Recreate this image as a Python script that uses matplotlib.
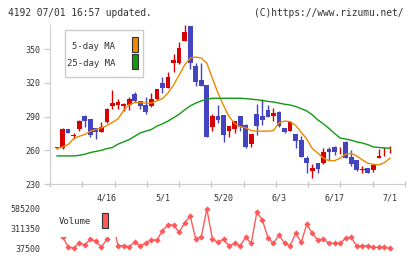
import matplotlib
matplotlib.use('Agg')
import matplotlib.pyplot as plt
from matplotlib.patches import Rectangle
import matplotlib.transforms as mtransforms
import numpy as np

# daily candles (4/3 .. 7/1)
opens = [262, 262, 279, 272.5, 279, 290.5, 288, 280, 276.5, 285,
         299.5, 300.5, 299, 300, 310, 304, 300, 299, 305.5, 320,
         315, 338, 337.5, 357.5, 370.5, 335, 322.5, 318, 281, 290.5,
         291.5, 277.5, 279, 290.5, 282.5, 266, 292, 290.5, 296, 290.5,
         294, 280, 277.5, 274.5, 269, 253, 241.8, 248.4, 248.4, 261,
         263.2, 260, 267.7, 254.3, 251.4, 242.3, 244, 242.5, 253.5, 262.5,
         262.5]
highs = [262.5, 280, 279, 275, 287, 291, 288, 280, 285, 297.5,
         314, 306, 302, 307, 312, 304, 307, 310.7, 314.5, 325.5,
         330, 346, 356, 371.5, 371, 338, 337.5, 318, 292, 300,
         291.5, 282, 286, 290.5, 283, 274.5, 301, 305.7, 300, 297.5,
         295, 280, 286, 274.5, 272.7, 254.5, 247.5, 248.4, 262, 263,
         263.5, 263, 268.5, 260.3, 251.4, 246, 244, 246.6, 261, 263,
         264]
lows = [261.5, 261, 275, 270, 277, 281, 271.5, 270, 276, 284,
        297, 297, 295, 296, 303, 296.5, 292.3, 298.8, 305, 311,
        315, 329.5, 337, 357, 332.5, 317.5, 317, 272, 277.5, 284.5,
        267.5, 271.5, 275, 277.5, 262, 263, 274, 282.5, 289.5, 286,
        281, 275.5, 277, 262, 254, 240, 235, 239.5, 248, 251.4,
        255.5, 256.5, 253, 246, 241.5, 239.5, 239.5, 241, 253, 254.5,
        258]
closes = [262, 279, 275, 273, 286, 286.5, 274, 276.5, 281, 297,
          302, 303, 301.5, 306, 303.5, 299.5, 294.5, 305.7, 314.5, 315,
          325, 340.5, 351, 365, 338, 321, 317.5, 272, 290.5, 287,
          273.5, 281.5, 285.8, 281, 263, 274.5, 282, 287, 290, 293.5,
          282, 276, 285, 268.6, 254.3, 248.4, 244.5, 243.6, 258.5, 258.8,
          258.8, 260.5, 253, 247.8, 242.5, 242.7, 240, 246.6, 255, 263,
          263]
ma5 = [261.5, 263, 265, 270.5, 272.5, 274, 277, 278.5, 280, 282,
       285, 288, 295.5, 300.5, 302.5, 302.5, 302, 302, 304, 306,
       311, 318, 327, 336, 342, 343, 342, 337.5, 324, 311,
       300, 290, 284, 281, 280, 277.5, 277, 277, 277, 277.5,
       284.5, 286, 285.5, 282, 276, 270, 261.5, 257.5, 253, 250.7,
       250.7, 253, 256.5, 257.3, 255, 251.5, 248.5, 247.5, 247, 249,
       253]
ma25 = [255, 255, 255, 255, 255.5, 256.5, 258, 259, 260, 261.5,
        262.5, 265.5, 267.5, 269.5, 272.5, 275.5, 277, 278.5, 281.5, 283.5,
        286, 289, 292, 296, 299.5, 302, 304, 305.5, 306.3, 306.3,
        306.3, 306.3, 306.3, 306.3, 306, 305.5, 305, 304.3, 303.5, 303,
        302, 301, 300.3, 299, 297, 295, 291.5, 287, 283.5, 279.5,
        275, 271, 270, 269, 267.5, 266.5, 265, 263, 262.5, 262,
        262]
volume = [250000, 200000, 59800, 40000, 115500, 83500, 163000, 139200, 51400, 167100,
          404000, 73700, 73700, 59800, 121100, 73700, 107200, 153200, 153200, 282800,
          362200, 362200, 260500, 394300, 487700, 167100, 199200, 585200, 167100, 121100,
          167100, 69600, 107200, 73700, 190800, 107200, 539200, 431900, 185200, 107200,
          222900, 107200, 73700, 246600, 121100, 372000, 246600, 153200, 167100, 107200,
          107200, 107200, 176900, 190800, 69600, 69600, 73700, 51400, 51400, 51400,
          37500]
date_labels = ['4/16', '5/1', '5/20', '6/3', '6/17', '7/1']
date_index = [9, 19, 30, 40, 50, 60]
price_ticks = [230, 260, 290, 320, 350]
vol_ticks = [37500, 311350, 585200]

RED = '#d80000'
BLUE = '#4444c0'
GRID = '#cccccc'
TXT = '#333333'
MONO = 'DejaVu Sans Mono'

plt.rcParams['font.family'] = MONO

W, H = 420, 259
fig = plt.figure(figsize=(W/100, H/100), dpi=100)

def px_axes(x0, y0, x1, y1):
  # pixel box (top-left origin) -> figure axes
  return fig.add_axes([x0/W, 1-y1/H, (x1-x0)/W, (y1-y0)/H])

ax = px_axes(50, 25, 405, 184)
vax = px_axes(50, 209, 405, 248.3)

n = len(closes)
idx = np.arange(n)
xlim = (-1.26, 62.7)

# candles
o = np.array(opens); c = np.array(closes)
up = c >= o
colors = [RED if u else BLUE for u in up]
ax.vlines(idx, lows, highs, colors=colors, linewidth=1, zorder=2)
bottom = np.minimum(o, c)
height = np.maximum(np.abs(c - o), 0.7)
ax.bar(idx, height, bottom=bottom, width=0.85, color=colors, linewidth=0, zorder=3)

ax.plot(idx, ma5, color='#ee8800', lw=1, zorder=4)
ax.plot(idx, ma25, color='#119911', lw=1, zorder=4)

ax.set_xlim(*xlim)
ax.set_ylim(230, 371.5)
ax.set_yticks(price_ticks)
ax.set_xticks(np.linspace(xlim[0], xlim[1], 12))
ax.set_xticklabels([])
for s in ['top', 'right']:
  ax.spines[s].set_visible(False)
for s in ['left', 'bottom']:
  ax.spines[s].set_color(GRID)
ax.tick_params(axis='y', length=4, width=1, color=GRID, labelsize=6, labelcolor=TXT, pad=3)
ax.tick_params(axis='x', direction='inout', length=5, width=1, color=GRID)

trans = mtransforms.blended_transform_factory(ax.transData, ax.transAxes)
for lab, i in zip(date_labels, date_index):
  ax.text(i, -0.088, lab, transform=trans, ha='center', va='center',
          fontsize=6, color=TXT, clip_on=False)

# legend (price)
ax.add_patch(Rectangle((0.042, 0.673), 0.22, 0.296, transform=ax.transAxes,
                       facecolor='white', edgecolor=GRID, lw=1, zorder=10))
ax.text(0.183, 0.8635, '5-day MA', transform=ax.transAxes, ha='right', va='center',
        fontsize=6.5, color=TXT, zorder=11)
ax.text(0.183, 0.759, '25-day MA', transform=ax.transAxes, ha='right', va='center',
        fontsize=6.5, color=TXT, zorder=11)
ax.add_patch(Rectangle((0.231, 0.83), 0.017, 0.094, transform=ax.transAxes,
                       facecolor='#ee8800', edgecolor='#333333', lw=0.8, zorder=11))
ax.add_patch(Rectangle((0.231, 0.723), 0.017, 0.094, transform=ax.transAxes,
                       facecolor='#119911', edgecolor='#333333', lw=0.8, zorder=11))

# volume
vax.plot(idx, volume, color='#ff5a5a', lw=1, marker='D', markersize=3.2,
         markeredgewidth=0, clip_on=False, zorder=2)
vax.set_xlim(*xlim)
vax.set_ylim(37500, 585200)
vax.set_yticks(vol_ticks)
vax.set_yticklabels([str(v) for v in vol_ticks])
vax.set_xticks([])
for s in vax.spines.values():
  s.set_visible(False)
vax.tick_params(axis='y', length=0, labelsize=6, labelcolor=TXT, pad=7)

vax.add_patch(Rectangle((-0.005, 0.30), 0.196, 0.80, transform=vax.transAxes,
                        facecolor='white', edgecolor='none', zorder=10, clip_on=False))
vax.text(0.025, 0.677, 'Volume', transform=vax.transAxes, ha='left', va='center',
         fontsize=6.5, color=TXT, zorder=11)
vax.add_patch(Rectangle((0.1465, 0.5165), 0.017, 0.382, transform=vax.transAxes,
                        facecolor='#ff5a5a', edgecolor='#333333', lw=0.8, zorder=11,
                        clip_on=False))

fig.text(8/W, 1-13/H, '4192 07/01 16:57 updated.', ha='left', va='center',
         fontsize=6.9, color=TXT)
fig.text(404/W, 1-13/H, '(C)https://www.rizumu.net/', ha='right', va='center',
         fontsize=6.9, color=TXT)

fig.savefig('out.png', dpi=100)
